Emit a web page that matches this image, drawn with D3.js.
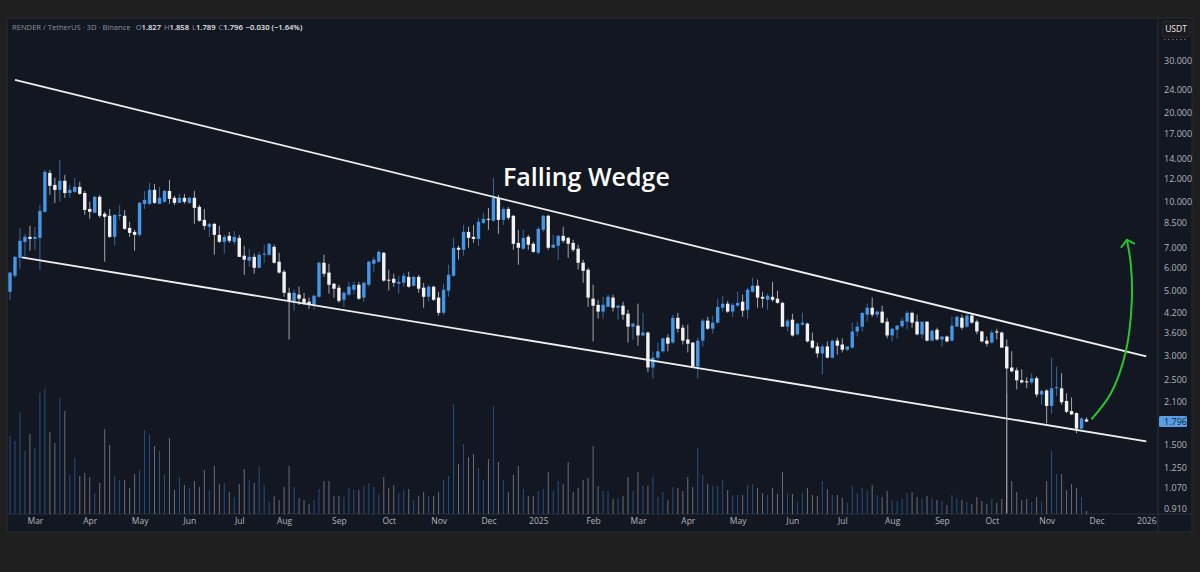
<!DOCTYPE html>
<html>
<head>
<meta charset="utf-8">
<script src="https://cdn.jsdelivr.net/npm/d3@7"></script>
<style>
  html, body { margin: 0; padding: 0; background: #1e1e1e; }
  svg { display: block; }
  text { font-family: "Open Sans", "Noto Sans", sans-serif; }
</style>
</head>
<body>
<div id="chart"></div>
<script>
const opens = [
  4.95,5.61,6.45,7.31,7.60,7.48,7.54,9.24,12.52,11.40,
  10.97,11.77,10.70,10.80,11.23,10.70,9.45,9.17,10.39,9.10,
  8.96,7.60,8.96,8.96,8.15,7.90,7.72,9.83,9.83,10.97,
  9.83,9.99,10.88,10.31,9.91,10.31,9.91,10.31,9.60,8.68,
  8.22,8.41,7.72,7.31,7.66,7.31,7.54,6.56,6.31,6.50,
  5.97,6.61,6.61,7.03,6.26,5.79,4.91,4.61,4.84,4.69,
  4.58,4.47,4.76,6.21,5.75,5.27,5.11,4.65,4.84,5.03,
  5.23,4.73,5.23,6.16,6.26,6.71,5.44,5.48,5.27,5.31,
  5.56,5.19,5.56,5.11,4.76,5.15,4.73,4.20,4.99,5.61,
  6.98,6.87,7.90,7.60,7.48,8.48,8.75,8.62,10.31,8.68,
  9.45,8.96,7.25,6.93,7.60,7.20,6.71,8.03,8.96,6.98,
  7.09,7.66,7.54,7.25,6.93,6.21,5.88,4.69,4.47,4.24,
  4.40,4.73,4.37,4.44,4.17,3.77,3.80,3.52,3.60,2.74,
  2.96,3.11,3.46,3.33,4.04,3.74,3.41,3.33,2.76,3.38,
  3.95,3.71,3.89,4.37,4.51,4.24,4.44,4.58,4.30,4.95,
  5.19,4.76,4.65,4.76,4.69,4.54,3.77,3.98,3.55,3.83,
  3.86,3.38,3.23,3.06,3.23,2.96,3.38,3.28,3.15,3.20,
  3.63,3.77,4.14,4.37,4.14,4.24,3.92,3.52,3.68,3.78,
  3.92,4.20,3.92,3.55,3.92,3.38,3.68,3.41,3.49,3.38,
  3.77,4.04,3.77,4.11,3.92,3.63,3.38,3.33,3.63,3.60,
  3.23,2.74,2.68,2.48,2.46,2.44,2.52,2.22,2.29,2.03,
  2.33,2.33,2.11,1.95,1.92,1.70,1.827
];
const highs = [
  5.79,6.56,8.15,7.78,8.28,8.20,9.75,12.82,12.82,12.05,
  13.86,12.33,11.40,12.05,11.68,10.88,9.99,10.47,10.55,9.24,
  9.45,9.03,9.75,9.38,8.55,8.03,9.99,10.88,11.60,11.50,
  11.23,10.97,11.86,10.47,10.63,10.63,10.39,10.88,9.75,9.45,
  8.48,8.48,8.28,7.72,7.90,7.96,7.72,7.09,6.93,6.66,
  6.76,7.15,7.25,7.15,6.71,5.88,5.11,5.03,5.15,4.91,
  4.73,4.84,6.26,6.61,6.16,5.31,5.23,4.95,5.35,5.35,
  5.35,5.35,6.31,6.50,6.87,6.76,5.88,5.70,5.61,5.75,
  5.79,5.61,5.65,5.31,5.23,5.19,4.95,5.27,6.11,7.54,
  7.10,8.34,8.22,8.34,8.82,9.17,9.53,12.05,10.55,9.60,
  9.60,9.03,8.03,8.03,7.72,7.31,8.22,9.03,9.03,7.72,
  7.72,8.22,7.60,7.43,7.15,6.36,5.97,5.23,4.65,4.76,
  4.84,4.84,4.47,4.58,4.30,3.89,4.51,4.20,3.63,3.11,
  3.33,3.46,3.55,4.14,4.20,3.83,3.83,3.33,3.46,4.01,
  4.07,4.11,4.69,4.80,4.61,4.54,4.95,4.84,5.11,5.52,
  5.44,4.95,4.88,5.35,4.99,4.58,4.01,4.17,3.89,4.20,
  3.89,3.60,3.33,3.28,3.36,3.41,3.46,3.44,3.23,3.89,
  3.92,4.20,4.51,4.73,4.27,4.44,4.04,3.74,3.83,4.04,
  4.27,4.24,4.14,3.92,3.92,3.68,3.74,3.49,3.52,4.07,
  4.11,4.14,4.17,4.17,3.98,3.65,3.49,3.68,3.71,3.63,
  3.41,3.11,2.74,2.70,2.54,2.62,2.56,2.31,2.31,2.96,
  2.76,2.62,2.24,2.17,1.93,1.86,1.858
];
const lows = [
  4.65,5.52,5.92,6.50,6.82,6.87,5.88,9.17,10.55,9.90,
  9.99,10.31,10.31,10.70,10.55,9.03,8.75,9.17,8.82,6.26,
  7.54,7.09,8.68,8.03,7.60,6.82,7.60,9.45,9.75,9.83,
  9.83,9.91,9.83,9.75,9.91,9.83,9.83,8.41,8.55,8.03,
  7.60,6.61,7.25,6.66,7.25,7.15,6.50,5.65,6.02,5.70,
  5.97,6.21,6.56,6.16,5.70,4.76,3.41,4.27,4.47,4.47,
  4.33,4.30,4.73,5.56,4.88,4.73,4.54,4.40,4.80,4.84,
  4.65,4.58,5.15,5.79,6.21,5.35,5.00,5.15,4.88,5.15,
  5.11,5.15,4.91,4.37,4.58,4.61,4.11,4.14,4.76,5.56,
  6.36,6.56,6.98,7.25,7.09,8.41,8.03,8.55,7.78,8.34,
  8.68,6.87,6.11,6.87,6.87,6.71,6.61,7.90,6.87,6.98,
  6.36,7.25,6.45,6.76,5.88,5.31,4.40,3.36,4.01,4.01,
  4.40,4.24,3.98,3.98,3.33,3.41,3.25,3.49,2.64,2.52,
  2.92,3.08,3.11,3.30,3.60,3.28,3.08,2.76,2.52,3.23,
  3.68,3.57,3.86,4.24,4.20,4.07,4.40,4.07,4.01,4.91,
  4.37,4.37,4.30,4.58,4.51,3.77,3.63,3.49,3.52,3.80,
  3.33,3.18,2.96,2.60,2.94,2.94,3.03,3.08,3.11,3.18,
  3.49,3.63,3.92,4.07,4.04,3.86,3.44,3.36,3.44,3.74,
  3.68,3.74,3.52,3.44,3.36,3.36,3.38,3.23,3.33,3.36,
  3.77,3.68,3.74,3.86,3.55,3.33,3.23,3.30,3.41,3.20,
  0.88,2.64,2.31,2.42,2.33,2.40,2.17,2.05,1.77,1.91,
  2.19,2.05,1.92,1.89,1.64,1.69,1.789
];
const closes = [
  5.75,6.50,7.37,7.60,7.48,7.60,9.31,12.62,11.32,10.97,
  11.77,10.70,10.97,11.23,10.63,9.38,9.24,10.39,8.96,8.89,
  7.60,9.03,9.03,8.09,7.84,7.72,9.91,10.15,10.97,9.91,
  10.31,10.88,10.23,9.91,10.31,9.99,10.31,9.53,8.62,8.28,
  8.41,7.72,7.31,7.60,7.37,7.60,6.50,6.36,6.50,5.97,
  6.61,6.66,7.20,6.21,5.75,4.91,4.61,4.91,4.69,4.54,
  4.47,4.80,6.21,5.70,5.23,5.07,4.61,4.91,5.15,5.23,
  4.69,5.31,6.26,6.36,6.76,5.40,5.40,5.31,5.35,5.61,
  5.15,5.56,5.07,4.76,5.15,4.65,4.20,5.03,5.65,6.98,
  6.87,7.90,7.54,7.48,8.55,8.75,8.68,10.31,8.68,9.45,
  8.82,7.20,6.98,7.54,7.15,6.76,8.09,8.96,6.98,7.15,
  7.66,7.37,7.20,6.87,6.21,5.83,4.73,4.44,4.24,4.47,
  4.76,4.37,4.44,4.14,3.77,3.86,3.52,3.60,2.74,2.96,
  3.11,3.44,3.30,4.04,3.71,3.38,3.30,2.76,3.38,3.95,
  3.71,3.89,4.40,4.51,4.24,4.47,4.54,4.27,5.03,5.19,
  4.73,4.69,4.80,4.65,4.54,3.77,3.95,3.52,3.86,3.89,
  3.36,3.20,3.06,3.23,2.96,3.38,3.25,3.15,3.23,3.63,
  3.77,4.20,4.37,4.14,4.24,3.89,3.52,3.71,3.80,3.95,
  4.20,3.89,3.55,3.92,3.38,3.65,3.41,3.49,3.36,3.80,
  4.07,3.74,4.11,3.89,3.63,3.36,3.30,3.60,3.60,3.20,
  2.72,2.66,2.48,2.44,2.44,2.52,2.22,2.28,2.03,2.33,
  2.35,2.09,1.94,1.90,1.70,1.84,1.796
];
// volume in millions
const volumes = [
  7.8,7.3,10.2,6.3,8.0,6.6,12.1,12.5,8.2,7.1,
  11.6,10.3,3.9,5.6,3.8,4.1,3.7,2.1,3.1,8.5,
  6.9,3.8,3.4,3.4,2.6,4.0,4.4,8.4,7.9,6.8,
  6.3,3.9,7.6,2.4,3.7,2.9,2.6,3.3,2.7,4.4,
  2.4,4.8,3.0,3.1,2.2,1.7,3.0,4.5,3.4,3.1,
  4.7,2.9,1.2,1.8,1.4,2.7,4.8,2.7,1.6,1.4,
  1.0,1.4,2.5,3.3,3.3,1.8,1.8,1.7,2.6,2.4,
  2.4,2.8,3.1,2.7,2.0,3.7,2.6,2.9,2.1,2.4,
  2.5,1.4,1.8,2.2,1.8,1.8,2.2,3.4,3.8,11.0,
  5.0,7.0,5.7,6.0,4.6,3.4,5.5,10.8,5.2,3.4,
  2.2,3.9,4.8,2.5,1.8,1.8,2.3,2.5,4.2,2.3,
  3.3,3.0,5.2,2.2,2.6,3.4,3.6,6.8,2.8,2.3,
  2.3,1.5,1.6,1.8,3.7,2.3,4.2,2.8,2.8,3.7,
  1.7,2.2,1.4,2.7,2.6,2.3,3.7,2.7,6.6,3.9,
  3.0,2.8,2.8,3.4,2.4,1.9,1.9,1.9,2.9,3.0,
  2.6,2.1,1.9,2.6,2.0,4.2,2.1,2.0,1.2,2.1,
  2.6,1.9,1.8,3.3,2.5,1.9,1.9,1.6,1.1,2.8,
  2.1,2.6,2.3,2.9,1.9,1.7,2.3,1.4,1.3,1.5,
  2.1,2.2,1.7,1.5,1.8,1.6,1.4,1.3,0.9,1.9,
  1.6,1.4,1.2,1.0,1.7,1.3,1.0,1.5,1.1,1.5,
  12.0,3.3,2.2,1.4,1.5,1.2,1.7,1.2,3.3,6.3,
  4.0,4.0,2.4,3.0,2.6,1.7,0.3
];

const priceTicks = [30,24,20,17,14,12,10,8.5,7,6,5,4.2,3.6,3,2.5,2.1,1.5,1.25,1.07,0.91];
const monthBars = [5,16,26,36,46,55,66,76,86,96,106,117,126,136,146,157,167,177,187,197,208,218,228];
const monthLabels = ["Mar","Apr","May","Jun","Jul","Aug","Sep","Oct","Nov","Dec","2025","Feb","Mar","Apr","May","Jun","Jul","Aug","Sep","Oct","Nov","Dec","2026"];

// trend lines and the arrow, as [bar, price]
const upperLine = [[1, 25.87], [228, 2.99]];
const lowerLine = [[2.35, 6.47], [228, 1.54]];
const arrowCurve = [[217, 1.83], [220.9, 2.24], [223.9, 3.11], [225.1, 4.65], [224.9, 6.11], [224.1, 7.43]];
const arrowHead = [[222.9, 6.98], [224.1, 7.43], [225.7, 7.2]];

const lastPrice = 1.796;
const header = "RENDER / TetherUS · 3D · Binance";
const ohlc = [["O","1.827"],["H","1.858"],["L","1.789"],["C","1.796"]];
const change = "−0.030 (−1.64%)";

const width = 1200, height = 572;
const blue = "#4496e6", white = "#f2f2f2";

const svg = d3.select("#chart").append("svg")
  .attr("width", width)
  .attr("height", height);

svg.append("rect")
  .attr("x", 7).attr("y", 18)
  .attr("width", 1185).attr("height", 514)
  .attr("fill", "#131722")
  .attr("stroke", "#2b2b2f");

svg.append("line").attr("x1", 1158).attr("x2", 1158).attr("y1", 18).attr("y2", 532).attr("stroke", "#2a2e39");
svg.append("line").attr("x1", 7).attr("x2", 1192).attr("y1", 514).attr("y2", 514).attr("stroke", "#2a2e39");

const x = d3.scaleLinear().domain([0, 216]).range([10, 1086.5]);
const y = d3.scaleLog().domain([0.91, 30]).range([508.7, 61]);
const v = d3.scaleLinear().domain([0, 12.5]).range([514, 389]);

const bars = d3.range(opens.length).map(i => ({
  i, o: opens[i], h: highs[i], l: lows[i], c: closes[i], vol: volumes[i], up: closes[i] >= opens[i]
}));

svg.append("defs").append("clipPath").attr("id", "plot")
  .append("rect").attr("x", 8).attr("y", 19).attr("width", 1150).attr("height", 495);

const plot = svg.append("g").attr("clip-path", "url(#plot)");

plot.selectAll(".vol")
  .data(bars)
  .join("line")
  .attr("class", "vol")
  .attr("x1", d => x(d.i))
  .attr("x2", d => x(d.i))
  .attr("y1", d => v(d.vol))
  .attr("y2", v(0))
  .attr("stroke", d => d.up ? "#24507f" : "#6a6d75")
  .attr("stroke-width", 1);

plot.selectAll(".wick")
  .data(bars)
  .join("line")
  .attr("class", "wick")
  .attr("x1", d => x(d.i))
  .attr("x2", d => x(d.i))
  .attr("y1", d => y(d.h))
  .attr("y2", d => y(d.l))
  .attr("stroke", d => d.up ? "#33699e" : "#a5a7ab")
  .attr("stroke-width", 1);

plot.selectAll(".body")
  .data(bars)
  .join("rect")
  .attr("class", "body")
  .attr("x", d => x(d.i) - 1.7)
  .attr("y", d => y(Math.max(d.o, d.c)))
  .attr("width", 3.4)
  .attr("height", d => Math.max(1, Math.abs(y(d.o) - y(d.c))))
  .attr("fill", d => d.up ? blue : white);

const priceLine = d3.line().x(d => x(d[0])).y(d => y(d[1]));

[upperLine, lowerLine].forEach(pts => {
  plot.append("path")
    .attr("d", priceLine(pts))
    .attr("fill", "none")
    .attr("stroke", "#f0f0f0")
    .attr("stroke-width", 1.8);
});

plot.append("path")
  .attr("d", priceLine.curve(d3.curveCatmullRom)(arrowCurve))
  .attr("fill", "none")
  .attr("stroke", "#24c72e")
  .attr("stroke-width", 2);

plot.append("path")
  .attr("d", priceLine.curve(d3.curveLinear)(arrowHead))
  .attr("fill", "none")
  .attr("stroke", "#24c72e")
  .attr("stroke-width", 2);

svg.append("text")
  .attr("x", 503)
  .attr("y", 186)
  .attr("fill", "#ffffff")
  .style("font-size", "25px")
  .style("font-weight", 600)
  .text("Falling Wedge");

// header line
const head = svg.append("text")
  .attr("x", 12)
  .attr("y", 30)
  .style("font-size", "7.6px");
head.append("tspan").attr("fill", "#8f929b").text(header + "  ");
ohlc.forEach(p => {
  head.append("tspan").attr("fill", "#8f929b").attr("dx", 3).text(p[0]);
  head.append("tspan").attr("fill", "#e6e7ea").style("font-weight", 600).text(p[1]);
});
head.append("tspan").attr("fill", "#e6e7ea").attr("dx", 3).style("font-weight", 600).text(change);

// axes
const yAxis = svg.append("g")
  .attr("transform", "translate(1158,0)")
  .call(d3.axisRight(y).tickValues(priceTicks).tickFormat(d3.format(".3f")).tickSize(0).tickPadding(6));
yAxis.select(".domain").remove();
yAxis.selectAll("text").attr("fill", "#b2b5be").style("font-size", "9px");

const xAxis = svg.append("g")
  .attr("transform", "translate(0,514)")
  .call(d3.axisBottom(x).tickValues(monthBars).tickFormat((d, i) => monthLabels[i]).tickSize(0).tickPadding(4));
xAxis.select(".domain").remove();
xAxis.selectAll("text").attr("fill", "#b2b5be").style("font-size", "8.5px");

// last price tag
svg.append("rect")
  .attr("x", 1159).attr("y", y(lastPrice) - 5.5)
  .attr("width", 28).attr("height", 11)
  .attr("rx", 1.5)
  .attr("fill", "#5a9fe6");
svg.append("text")
  .attr("x", 1164).attr("y", y(lastPrice))
  .attr("dy", "0.35em")
  .attr("fill", "#10233a")
  .style("font-size", "9px")
  .text(d3.format(".3f")(lastPrice));

// currency button
svg.append("rect")
  .attr("x", 1162).attr("y", 21)
  .attr("width", 28).attr("height", 16)
  .attr("rx", 3)
  .attr("fill", "#1c1c1e")
  .attr("stroke", "#2a2a2e");
svg.append("text")
  .attr("x", 1176).attr("y", 29)
  .attr("dy", "0.35em")
  .attr("text-anchor", "middle")
  .attr("fill", "#e6e7ea")
  .style("font-size", "8.5px")
  .text("USDT");
svg.append("line")
  .attr("x1", 1164).attr("x2", 1188).attr("y1", 39.5).attr("y2", 39.5)
  .attr("stroke", "#6c6f78")
  .attr("stroke-dasharray", "1.5 2.5");
</script>
</body>
</html>
